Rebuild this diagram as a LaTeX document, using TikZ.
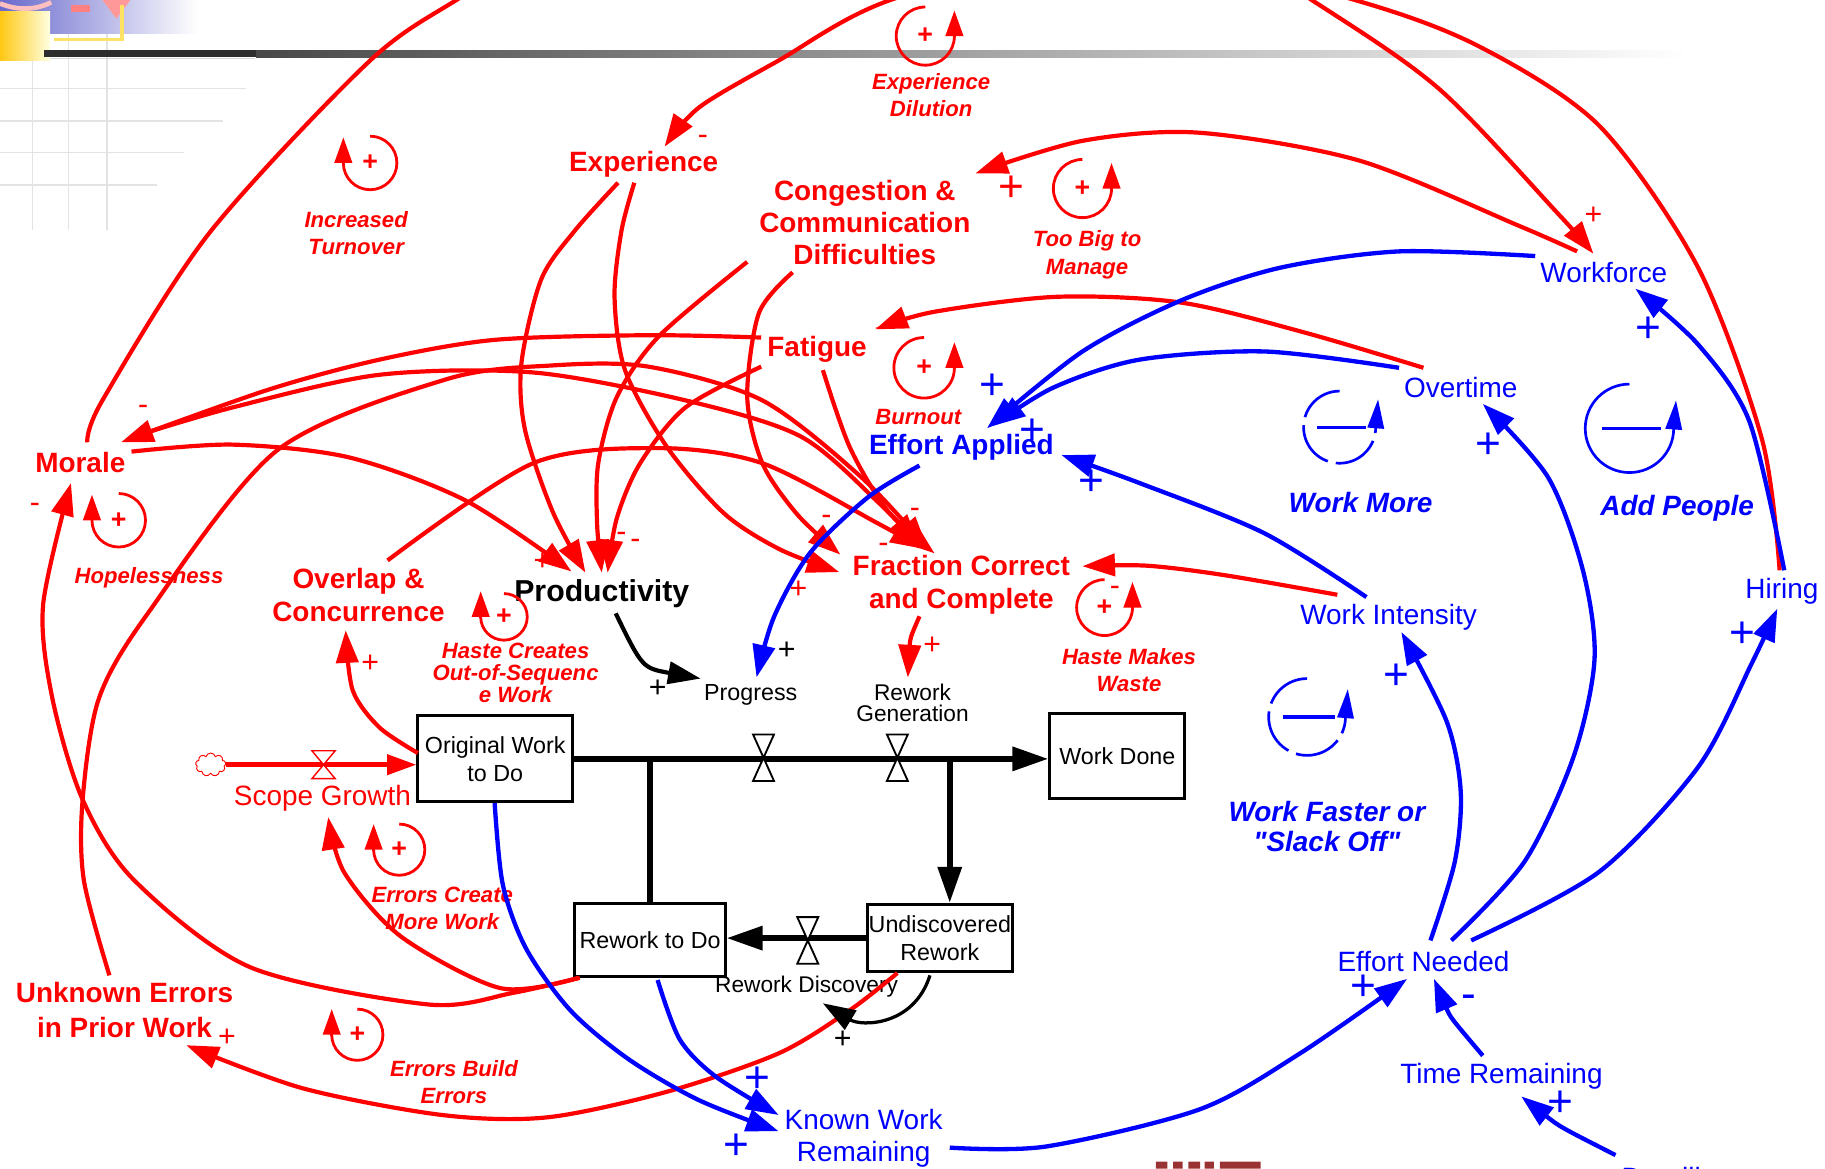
\documentclass[tikz,border=0pt]{standalone}
\usepackage{fontspec}
\setmainfont{Liberation Sans}
\newfontfamily\qfont{Liberation Sans}
\usetikzlibrary{arrows.meta,calc,shapes.symbols}
\newcommand\myfs[2]{\fontsize{#1}{#2}\selectfont}
\newcommand\sq{{\qfont\bfseries\itshape\char34}}
\definecolor{mitred}{RGB}{153,51,51}
\definecolor{logoblue}{RGB}{105,105,205}
\definecolor{logoyellow}{RGB}{255,200,20}
\tikzset{
 lnk/.style={line width=3.6pt,-{Triangle[length=28pt,width=19pt]}},
 rl/.style={lnk,draw=red},
 bl/.style={lnk,draw=blue,line width=3.7pt},
 kl/.style={lnk,draw=black},
 rb/.style={text=red,font=\bfseries\myfs{24}{28.5},align=center,inner sep=0pt},
 bbold/.style={text=blue,font=\bfseries\myfs{24}{28},align=center,inner sep=0pt},
 bv/.style={text=blue,font=\myfs{24}{28},align=center,inner sep=0pt},
 kv/.style={text=black,font=\myfs{19.5}{18},align=center,inner sep=0pt},
 rloop/.style={text=red,font=\bfseries\itshape\myfs{19}{23.5},align=center,inner sep=0pt},
 bloop/.style={text=blue,font=\bfseries\itshape\myfs{24}{26},align=center,inner sep=0pt},
 stock/.style={draw=black,line width=2.6pt,fill=white,align=center,font=\myfs{20}{24},inner sep=0pt},
 flow/.style={line width=5pt,-{Triangle[length=31pt,width=20pt]}},
 rsg/.style={text=red,font=\myfs{26}{26},inner sep=0pt},
 rsgl/.style={text=red,font=\myfs{38}{38},inner sep=0pt},
 ksg/.style={text=black,font=\myfs{26}{26},inner sep=0pt},
 bsg/.style={text=blue,font=\myfs{38}{38},inner sep=0pt},
 valve/.pic={\draw[line width=1.6pt,fill=white] (-9,-20) -- (9,-20) -- (-9,20) -- (9,20) -- cycle;},
 rvalve/.pic={\draw[red,line width=1.2pt,fill=white] (-10,-12) -- (10,-12) -- (-10,12) -- (10,12) -- cycle;},
}
\newcommand\rloopL[4]{\begin{scope}[shift={(#1,#2)},yscale=-1]
 \draw[red,line width=2.4pt] (0,#3) arc[start angle=90,end angle=-180,radius=#3];
 \draw[red,line width=2.4pt,-{Triangle[length=22pt,width=15pt]}] (-#3,-1) -- (-#3,22);
 \node[text=red,font=\bfseries\myfs{23}{23},inner sep=0pt] (#4) at (0,0) {+};
\end{scope}}
\newcommand\rloopR[4]{\begin{scope}[shift={(#1,#2)},yscale=-1]
 \draw[red,line width=2.4pt] (0,#3) arc[start angle=90,end angle=360,radius=#3];
 \draw[red,line width=2.4pt,-{Triangle[length=22pt,width=15pt]}] (#3,-1) -- (#3,22);
 \node[text=red,font=\bfseries\myfs{23}{23},inner sep=0pt] (#4) at (0,0) {+};
\end{scope}}
\newcommand\bloopR[4]{\begin{scope}[shift={(#1,#2)},yscale=-1]
 \draw[blue,line width=2.3pt,#4] (0,#3) arc[start angle=90,end angle=360,radius=#3];
 \draw[blue,line width=2.3pt,-{Triangle[length=25pt,width=14pt]}] (#3,-1) -- (#3+2,24);
 \draw[blue,line width=2.8pt] ({-0.62*#3},0) -- ({0.72*#3},0);
\end{scope}}
\begin{document}
\begin{tikzpicture}[x=1pt,y=-1pt]
\useasboundingbox (0,0) rectangle (1568,1004);
\clip (0,0) rectangle (1568,1004);
\fill[white] (0,0) rectangle (1568,1004);
% ---- slide decorations
\draw[gray!22,line width=1.3pt] (28,52) -- (28,198) (59,26) -- (59,198) (92,26) -- (92,198);
\draw[gray!22,line width=1.3pt] (0,76) -- (211,76) (0,104) -- (192,104) (0,131) -- (158,131) (0,159) -- (135,159);
\shade[left color=logoblue,right color=white] (0,0) rectangle (170,29);
\draw[red!25,line width=4pt] (0,3) .. controls (15,9) and (30,9) .. (44,2);
\fill[red!50] (61,4) rectangle (77,10);
\fill[red!40] (88,0) -- (112,0) -- (100,16) -- cycle;
\shade[left color=logoyellow,right color=yellow!12] (0,10) rectangle (43,52);
\draw[yellow!70!orange!60,line width=3pt] (105,4) -- (105,34) -- (46,34);
\fill[black!82] (38,43) rectangle (220,49);
\shade[left color=black!72,right color=white] (220,43) rectangle (1450,49);
\draw[gray!30,line width=1pt] (43,50) -- (219,50);
\fill[mitred] (993,998) rectangle (1003,1004) (1008,998) rectangle (1016,1004) (1021,998) rectangle (1031,1004) (1035,998) rectangle (1043,1004) (1048,998) rectangle (1083,1004);
% ---- variables
\node[rb] (exper) at (553,141) {Experience};
\node[rb,font=\bfseries\myfs{24}{27.5}] (cong) at (743,191) {Congestion \&\\Communication\\Difficulties};
\node[rb] (fatig) at (702,300) {Fatigue};
\node[rb] (morale) at (69,397) {Morale};
\node[rb] (overlap) at (308,511.5) {Overlap \&\\Concurrence};
\node[rb] (fcc) at (826,502.5) {Fraction Correct\\and Complete};
\node[rb,font=\bfseries\myfs{24}{30}] (unk) at (107,868) {Unknown Errors\\in Prior Work};
\node[text=black,font=\bfseries\myfs{26}{28},inner sep=0pt] (prod) at (517,510) {Productivity};
\node[bbold] (effapp) at (826,384) {Effort Applied};
\node[bv] (workforce) at (1378,234) {Workforce};
\node[bv] (overtime) at (1255,333) {Overtime};
\node[bv] (workint) at (1193,530) {Work Intensity};
\node[bv] (hiring) at (1531,508) {Hiring};
\node[bv] (effneed) at (1223,826) {Effort Needed};
\node[bv] (timerem) at (1290,925) {Time Remaining};
\node[bv] (known) at (742,978) {Known Work\\Remaining};
\node[bv,anchor=base west] (deadline) at (1393,1020) {Deadline};
\node[text=red,font=\myfs{24}{28},inner sep=0pt] (scope) at (277,686) {Scope Growth};
\node[kv,font=\myfs{20}{20}] (progress) at (645,597) {Progress};
\node[kv] (rwgen) at (784,604) {Rework\\Generation};
\node[kv] (rwdisc) at (693,848) {Rework Discovery};
% ---- loop labels
\node[rloop] (lbl1) at (306,200) {Increased\\Turnover};
\node[rloop] (lbl2) at (800,81.5) {Experience\\Dilution};
\node[rloop] (lbl3) at (934,219) {Too Big to\\Manage};
\node[rloop] (lbl4) at (789,358) {Burnout};
\node[rloop] (lbl5) at (128,496) {Hopelessness};
\node[rloop,font=\bfseries\itshape\myfs{19}{19}] (lbl6) at (443,578) {Haste Creates\\Out-of-Sequenc\\e Work};
\node[rloop] (lbl7) at (970,575.5) {Haste Makes\\Waste};
\node[rloop] (lbl8) at (380,780.5) {Errors Create\\More Work};
\node[rloop] (lbl9) at (390,929.5) {Errors Build\\Errors};
\node[bloop] (lbl10) at (1169,432) {Work More};
\node[bloop] (lbl11) at (1441,437) {Add People};
\node[bloop] (lbl12) at (1140,710) {Work Faster or\\\sq Slack Off\sq};
% ---- loop symbols
\rloopL{318}{140}{23}{lp1}
\rloopR{795}{31}{25}{lp2}
\rloopR{930}{162}{25}{lp3}
\rloopR{794}{316}{26}{lp4}
\rloopL{102}{447}{23}{lp5}
\rloopL{433}{530}{20}{lp6}
\rloopR{949}{522}{24}{lp7}
\rloopL{343}{730}{22}{lp8}
\rloopL{307}{889}{22}{lp9}
\bloopR{1151}{367}{31}{dash pattern=on 40pt off 7pt}
\bloopR{1400}{368}{38}{solid}
\bloopR{1123}{616}{33}{dash pattern=on 40pt off 7pt}
% ---- stocks
\node[stock,minimum width=133pt,minimum height=74pt] (orig) at (425.5,652) {Original Work\\to Do};
\node[stock,minimum width=116pt,minimum height=73pt] (workdone) at (960,649.5) {Work Done};
\node[stock,minimum width=129pt,minimum height=63pt] (rework) at (558.5,807.5) {Rework to Do};
\node[stock,minimum width=125pt,minimum height=58pt] (undisc) at (807.5,806) {Undiscovered\\Rework};
\node[cloud,draw=red,cloud puffs=9,minimum width=26pt,minimum height=20pt,line width=0.8pt,inner sep=0pt] (cloud) at (181,657) {};
% ---- flows
\draw[flow] (orig.east) -- (orig.east -| workdone.west);
\draw[line width=5pt] (orig.east -| rework.north) -- (rework.north);
\coordinate (u1) at ($(undisc.north)+(8.5,0)$);
\draw[flow] (orig.east -| u1) -- (u1);
\draw[flow] (undisc.west) -- (rework.east |- undisc.west);
\draw[red,line width=3.8pt,-{Triangle[length=25pt,width=17pt]}] (cloud.east) -- (orig.west |- cloud.east);
\pic at (656,651) {valve};
\pic at (771,651) {valve};
\pic at (694,808) {valve};
\pic at (278,657) {rvalve};
% ---- red links
\draw[rl] plot[smooth] coordinates {($(morale)+(6,-17)$) (88,344) (180,200) (318,52) (400,-5) (520,-80) (750,-150) (980,-90) (1127,0) (1236,76) (1339,184) ($(workforce)+(-9,-16)$)};
\draw[rl] plot[smooth] coordinates {($(hiring)+(-2,-18)$) (1514,378) (1459,230) (1374,108) (1271,40) (1164,0) (960,-50) (765,0) (669,52) (601,92) ($(exper)+(18,-15)$)};
\draw[rl] plot[smooth] coordinates {($(workforce)+(-23,-18)$) (1305,194) (1168,138) (1030,114) (930,121) ($(cong)+(95,-42)$)};
\draw[rl] plot[smooth] coordinates {($(overtime)+(-32,-17)$) (1122,286) (1015,260) (908,255) (802,268) ($(fatig)+(50,-17)$)};
\draw[rl] plot[smooth] coordinates {($(fatig)+(-48,-10)$) (557,288) (425,292) (326,309) (230,335) ($(morale)+(35,-17)$)};
\draw[rl] plot[smooth] coordinates {($(morale)+(43,-21)$) (200,350) (326,322) (458,320) (589,344) (688,375) (755,432) ($(fcc)+(-36,-33)$)};
\draw[rl] plot[smooth] coordinates {($(unk)+(-13,-30)$) (72,756) (71,687) (85,600) (127,527) (238,387) (383,326) (474,314) (557,315) (655,344) (740,410) ($(fcc)+(-29,-31)$)};
\draw[rl] plot[smooth] coordinates {($(rework)+(-60.5,32.5)$) (441,853) (368,863) (215,831) (115,756) (71,687) (45,600) (37,520) ($(morale)+(-8,18)$)};
\draw[rl] plot[smooth] coordinates {($(overlap)+(25,-30)$) (458,398) (566,385) (655,398) (753,449) ($(fcc)+(-33,-31)$)};
\draw[rl] plot[smooth] coordinates {($(exper)+(-22,16)$) (494,198) (465,240) (448,312) (451,369) (475,440) ($(prod)+(-14,-18)$)};
\draw[rl] plot[smooth] coordinates {($(exper)+(-8,16)$) (534,198) (528,255) (537,318) (573,384) (622,441) (670,472) ($(fcc)+(-105,-11)$)};
\draw[rl] plot[smooth] coordinates {($(cong)+(-101,34)$) (566,289) (530,341) (514,398) (513,450) ($(prod)+(0,-18)$)};
\draw[rl] plot[smooth] coordinates {($(fatig)+(-48,15)$) (589,350) (550,398) (530,445) ($(prod)+(5,-18)$)};
\draw[rl] plot[smooth] coordinates {($(cong)+(-62,43)$) (652,269) (642,341) (655,398) (685,442) ($(fcc)+(-104,-26)$)};
\draw[rl] plot[smooth] coordinates {($(fatig)+(5,18)$) (730,384) (762,438) ($(fcc)+(-23,-27)$)};
\draw[rl] plot[smooth] coordinates {($(morale)+(44,-9)$) (200,382) (300,393) (400,430) ($(prod)+(-26,-19)$)};
\draw[rl] plot[smooth] coordinates {($(workint)+(-44,-19)$) (1051,494) (985,486) ($(fcc)+(104,-16)$)};
\draw[rl] ($(fcc)+(-36,27)$) .. controls (782,548) .. ($(rwgen)+(-4,-22)$);
\draw[rl] plot[smooth] coordinates {($(orig)+(-66.5,-5)$) (326,625) (303,593) ($(overlap)+(-11,30)$)};
\draw[rl] plot[smooth] coordinates {($(rework)+(-60.5,32.5)$) (430,849) (345,805) (296,750) ($(scope)+(5,16)$)};
\draw[rl] plot[smooth] coordinates {($(undisc)+(-36.5,30)$) (730,868) (669,905) (573,938) (470,960) (380,958) (260,935) ($(unk)+(53,30)$)};
% ---- blue links
\draw[bl] plot[smooth] coordinates {($(workforce)+(-59,-14)$) (1202,216) (1100,230) (1015,258) (930,302) ($(effapp)+(22,-16)$)};
\draw[bl] plot[smooth] coordinates {($(overtime)+(-53,-17)$) (1087,302) (979,309) (905,333) ($(effapp)+(27,-18)$)};
\draw[bl] plot[smooth] coordinates {($(workint)+(-19,-17)$) (1086,458) (979,415) ($(effapp)+(86,7)$)};
\draw[bl] plot[smooth] coordinates {($(effapp)+(-36,16)$) (746,427) (696,475) (665,530) ($(progress)+(5,-15)$)};
\draw[bl] plot[smooth] coordinates {($(hiring)+(2,-18)$) (1503,362) (1459,296) ($(workforce)+(27,14)$)};
\draw[bl] plot[smooth] coordinates {($(effneed)+(24,-18)$) (1310,740) (1352,650) (1370,566) (1360,490) (1330,410) ($(overtime)+(19,14)$)};
\draw[bl] plot[smooth] coordinates {($(effneed)+(6,-18)$) (1250,740) (1255,680) (1243,620) ($(workint)+(11,13)$)};
\draw[bl] plot[smooth] coordinates {($(effneed)+(41,-18)$) (1374,749) (1459,659) (1505,570) ($(hiring)+(-4,15)$)};
\draw[bl] plot[smooth] coordinates {($(known)+(74,8)$) (899,985) (1031,953) (1117,905) ($(effneed)+(-14,15)$)};
\draw[bl] ($(timerem)+(-16,-18)$) .. controls (1246,874) .. ($(effneed)+(9,15)$);
\draw[bl] ($(deadline.north west)+(-5,-10)$) .. controls (1340,968) .. ($(timerem)+(17,17)$);
\draw[bl] plot[smooth] coordinates {($(rework)+(6.5,34.5)$) (584,893) (615,925) ($(known)+(-73,-20)$)};
\draw[bl] plot[smooth] coordinates {($(orig)+(-0.5,38)$) (432,760) (452,815) (490,868) (540,910) (600,945) ($(known)+(-73,-6)$)};
% ---- black links
\draw[kl] ($(prod)+(12,17)$) .. controls (552,574) .. ($(progress)+(-43,-14)$);
\draw[kl,line width=2.8pt] ($(undisc)+(-8.5,32)$) .. controls (785,882) and (740,882) .. ($(rwdisc)+(14,14)$);
% ---- polarities
\node[rsg] (sg1) at (604,120) {-};
\node[rsg] (sg2) at (1369,185) {+};
\node[rsg] (sg3) at (123,352) {-};
\node[rsg] (sg4) at (30,436) {-};
\node[rsg] (sg5) at (466,483) {+};
\node[rsg] (sg6) at (534,461) {-};
\node[rsg] (sg7) at (546,467) {-};
\node[rsg] (sg8) at (710,447) {-};
\node[rsg] (sg9) at (786,441) {-};
\node[rsg] (sg10) at (759,471) {-};
\node[rsg] (sg11) at (686,507) {+};
\node[rsg] (sg12) at (801,555) {+};
\node[rsg] (sg13) at (318,570) {+};
\node[rsg] (sg14) at (195,892) {+};
\node[rsg] (sg15) at (958,508) {-};
\node[rsgl] (sg16) at (869,162) {+};
\node[ksg] (sk1) at (676,559) {+};
\node[ksg] (sk2) at (565,592) {+};
\node[ksg] (sk3) at (724,893) {+};
\node[bsg] (sb1) at (853,332) {+};
\node[bsg] (sb2) at (887,371) {+};
\node[bsg] (sb3) at (938,415) {+};
\node[bsg] (sb4) at (1416,283) {+};
\node[bsg] (sb5) at (1279,383) {+};
\node[bsg] (sb6) at (1200,581) {+};
\node[bsg] (sb7) at (1497,545) {+};
\node[bsg] (sb8) at (1171,849) {+};
\node[bsg] (sb9) at (1341,948) {+};
\node[bsg] (sb10) at (651,928) {+};
\node[bsg] (sb11) at (633,985) {+};
\node[bsg] (sb12) at (1262,861) {-};
\end{tikzpicture}
\end{document}
